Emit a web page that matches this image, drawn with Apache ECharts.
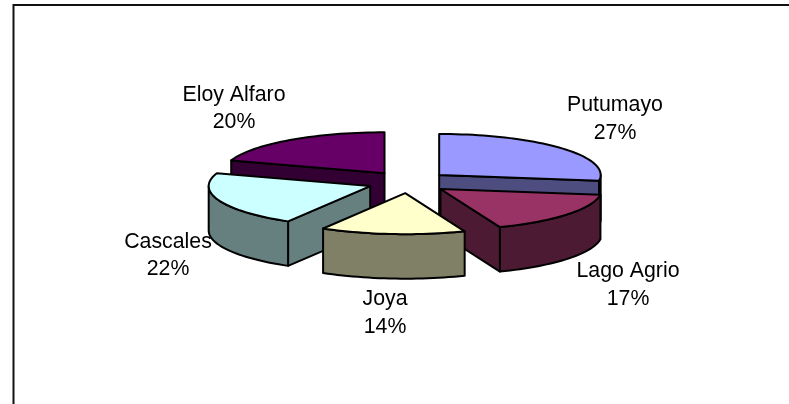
<!DOCTYPE html>
<html><head><meta charset="utf-8">
<style>html,body{margin:0;padding:0;background:#fff}#c{width:789px;height:404px}</style>
<script src="https://cdn.jsdelivr.net/npm/echarts@6/dist/echarts.min.js"></script>
</head><body><div id="c"></div>
<script>
// Data
const categories = ['Putumayo', 'Lago Agrio', 'Joya', 'Cascales', 'Eloy Alfaro'];
const shares = [27.2, 16.8, 14.49, 21.6, 19.91];
// Styles
const topColors = ['#9999FF', '#993366', '#FFFFCC', '#CCFFFF', '#660066'];
const sideColors = ['#4D4D80', '#4D1A33', '#808066', '#668080', '#330033'];
const paintOrder = [2, 4, 5, 3, 1];
const labelCenters = [[615, 119], [628, 285], [385, 313], [168, 255.8], [234, 108.5]];
// Layout
const CX = 408.4, CY = 182.2, RX = 161.5, RY = 41, DEPTH = 44.5, EXPLODE_X = 40.8, EXPLODE_Y = 11;
const total = shares.reduce((a, b) => a + b, 0);
const rad = d => d * Math.PI / 180;
const at = (o, a) => [o[0] + RX * Math.sin(rad(a)), o[1] - RY * Math.cos(rad(a))];
const down = p => [p[0], p[1] + DEPTH];
function arc(o, a, b) {
  const n = Math.max(2, Math.ceil(Math.abs(b - a) / 2)), pts = [];
  for (let i = 0; i <= n; i++) pts.push(at(o, a + (b - a) * i / n));
  return pts;
}
function renderItem(params, api) {
  const i = params.dataIndex;
  const before = shares.slice(0, i).reduce((a, b) => a + b, 0);
  const s = before / total * 360, e = (before + api.value(0)) / total * 360;
  const m = rad((s + e) / 2);
  const o = [CX + EXPLODE_X * Math.sin(m), CY - EXPLODE_Y * Math.cos(m)];
  const z2 = paintOrder[i] * 10;
  const line = { stroke: '#000', lineWidth: 2, lineJoin: 'round' };
  const poly = (pts, fill, dz) => ({
    type: 'polygon', z2: z2 + dz, shape: { points: pts },
    style: Object.assign({ fill }, line)
  });
  const kids = [];
  const radial = a => { const p = at(o, a); return [o, p, down(p), down(o)]; };
  if (Math.sin(rad(s)) < -1e-6) kids.push(poly(radial(s), sideColors[i], 0));
  if (Math.sin(rad(e)) > 1e-6) kids.push(poly(radial(e), sideColors[i], 0));
  const w0 = Math.max(s, 90), w1 = Math.min(e, 270);
  if (w1 > w0) {
    const rim = arc(o, w0, w1);
    kids.push(poly(rim.concat(rim.map(down).reverse()), sideColors[i], 1));
  }
  kids.push(poly([o].concat(arc(o, s, e)), topColors[i], 2));
  kids.push({
    type: 'text', z2: 100,
    style: {
      text: categories[i] + '\n' + Math.round(api.value(0)) + '%',
      x: labelCenters[i][0], y: labelCenters[i][1],
      align: 'center', verticalAlign: 'middle',
      font: '21.3px "Liberation Sans", Arial, sans-serif', lineHeight: 27.5, fill: '#000'
    }
  });
  return { type: 'group', children: kids };
}
const chart = echarts.init(document.getElementById('c'), null, { renderer: 'canvas' });
chart.setOption({
  animation: false,
  backgroundColor: '#fff',
  graphic: [
    { type: 'polyline', silent: true, shape: { points: [[13.5, 404], [13.5, 5], [789, 5]] },
      style: { stroke: '#111', lineWidth: 2, fill: null } }
  ],
  series: [{
    type: 'custom', coordinateSystem: 'none', silent: true,
    renderItem,
    data: categories.map((name, i) => ({ name, value: [shares[i]] }))
  }]
});
</script></body></html>
